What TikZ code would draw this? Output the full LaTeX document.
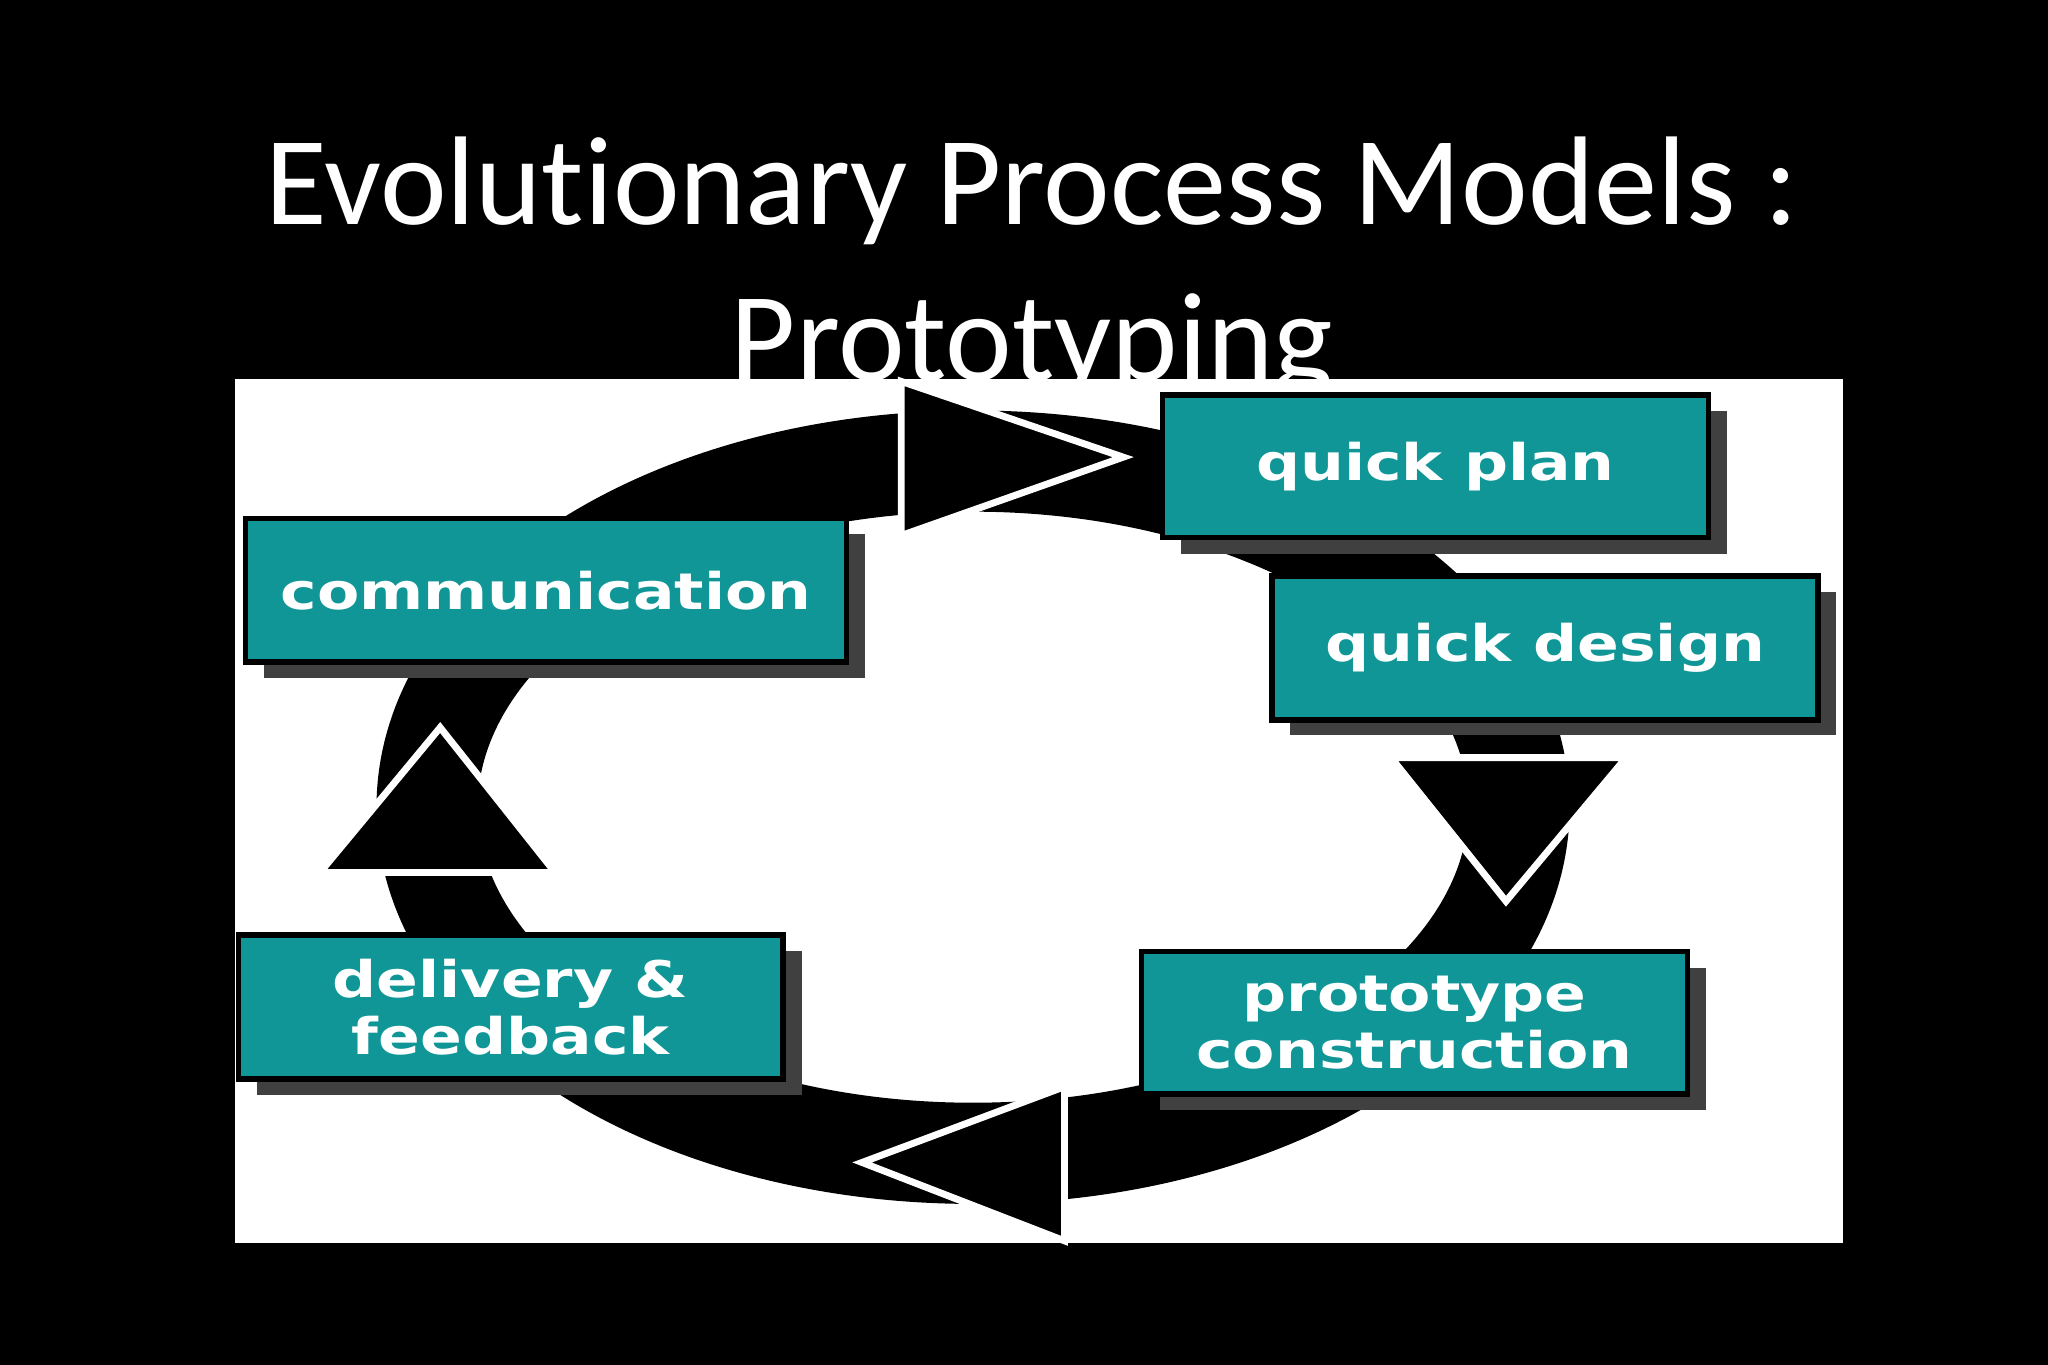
\documentclass[tikz,border=0pt]{standalone}
\usepackage{fontspec}
\setmainfont[RawFeature=-liga]{Carlito}
\newfontfamily\boxfont[FakeStretch=1.22]{DejaVu Sans}
\begin{document}
\begin{tikzpicture}[x=0.02cm,y=-0.02cm,
  stepbox/.style={draw=black,line width=2.5pt,fill={rgb,255:red,16;green,150;blue,150},text=white,font=\boxfont\bfseries\fontsize{22}{25}\selectfont,align=center,inner sep=0pt},
  shade/.style={fill=black!75},
  head/.style={fill=black,draw=white,line width=3pt,line join=miter}]
\fill[black] (0,0) rectangle (1568,1045);
\useasboundingbox (0,0) rectangle (1568,1045);
\node[text=white,font=\fontsize{55}{66}\selectfont] (t1) at (790,146) {Evolutionary Process Models :};
\node[text=white,font=\fontsize{55}{66}\selectfont] (t2) at (790,266) {Prototyping};
\fill[white] (180,290) rectangle (1411,952);
% ring
\draw[line width=1.55cm] (745,618) ellipse [x radius=418, y radius=265];
% arrowheads
\filldraw[head] (690,292) -- (860,350) -- (690,410) -- cycle;
\filldraw[head] (1065,580) -- (1245,580) -- (1153,690) -- cycle;
\filldraw[head] (815,832) -- (815,950) -- (660,890) -- cycle;
\filldraw[head] (245,668) -- (425,668) -- (337,557) -- cycle;
% boxes with shadows
\foreach \a/\b/\c/\d in {188/397/648/507,890/303/1308/412,974/441/1392/551,874/729/1292/838,183/716/600/826}
  \fill[shade] (\a+14,\b+12) rectangle (\c+14,\d+12);
\node[stepbox,minimum width=460*0.02cm,minimum height=110*0.02cm] (comm) at (418,452) {communication};
\node[stepbox,minimum width=418*0.02cm,minimum height=109*0.02cm] (plan) at (1099,357) {quick plan};
\node[stepbox,minimum width=418*0.02cm,minimum height=110*0.02cm] (design) at (1183,496) {quick design};
\node[stepbox,minimum width=418*0.02cm,minimum height=109*0.02cm] (cons) at (1083,783) {prototype\\construction};
\node[stepbox,minimum width=417*0.02cm,minimum height=110*0.02cm] (deliv) at (391,771) {delivery \&\\feedback};
\end{tikzpicture}
\end{document}
